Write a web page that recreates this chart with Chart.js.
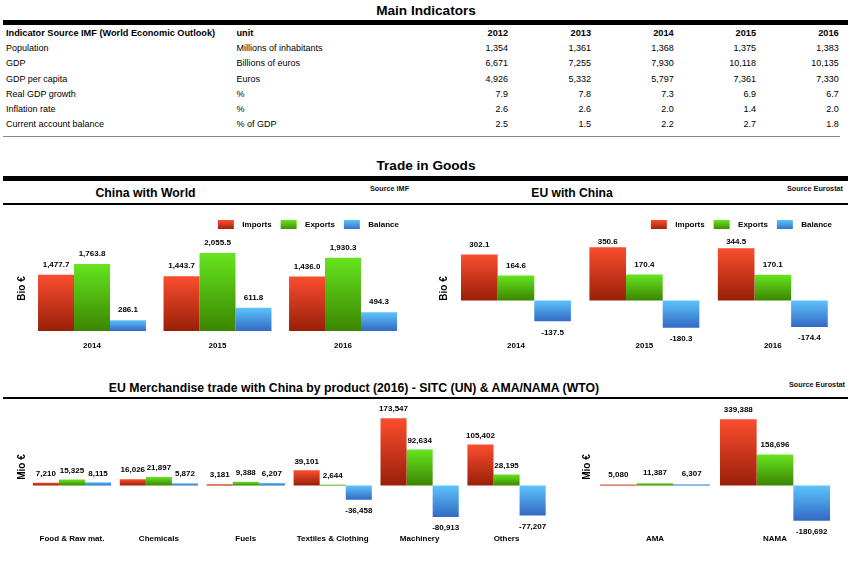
<!doctype html>
<head>
<style>
* {
    box-sizing: border-box;
    margin: 0;
    padding: 0;
}
body {
    width: 854px;
    height: 570px;
    background: white;
    font-family: "Liberation Sans", Arial, sans-serif;
    color: #000;
    position: relative;
    overflow: hidden;
}
canvas, .t, .rule {
    position: absolute;
}
.t {
    white-space: nowrap;
    line-height: 12px;
    font-size: 9px;
    transform: translateY(-6px);
}
.b { font-weight: bold; font-size: 9.2px; }
.r { text-align: right; transform: translate(-100%, -6px); }
.c { text-align: center; transform: translate(-50%, -8px); font-weight: bold; line-height: 16px; }
.src { font-size: 7.25px; font-weight: bold; color: #111; }
</style>
</head>
<body>
<canvas id="china_world"></canvas>
<canvas id="eu_china"></canvas>
<canvas id="by_sitc"></canvas>
<canvas id="by_wto"></canvas>
<script src="https://cdn.jsdelivr.net/npm/chart.js"></script>
<script>

let indicator_years = ['2012', '2013', '2014', '2015', '2016']
let indicator_names = ['Population', 'GDP', 'GDP per capita', 'Real GDP growth', 'Inflation rate', 'Current account balance']
let indicator_units = ['Millions of inhabitants', 'Billions of euros', 'Euros', '%', '%', '% of GDP']
let population = ['1,354', '1,361', '1,368', '1,375', '1,383']
let gdp = ['6,671', '7,255', '7,930', '10,118', '10,135']
let gdp_per_capita = ['4,926', '5,332', '5,797', '7,361', '7,330']
let gdp_growth = ['7.9', '7.8', '7.3', '6.9', '6.7']
let inflation = ['2.6', '2.6', '2.0', '1.4', '2.0']
let current_account = ['2.5', '1.5', '2.2', '2.7', '1.8']
let indicator_rows = [population, gdp, gdp_per_capita, gdp_growth, inflation, current_account]

let trade_years = ['2014', '2015', '2016']
let world_imports = [1477.7, 1443.7, 1436.0]
let world_exports = [1763.8, 2055.5, 1930.3]
let world_balance = [286.1, 611.8, 494.3]
let eu_imports = [302.1, 350.6, 344.5]
let eu_exports = [164.6, 170.4, 170.1]
let eu_balance = [-137.5, -180.3, -174.4]

let sitc_products = ['Food & Raw mat.', 'Chemicals', 'Fuels', 'Textiles & Clothing', 'Machinery', 'Others']
let sitc_imports = [7210, 16026, 3181, 39101, 173547, 105402]
let sitc_exports = [15325, 21897, 9388, 2644, 92634, 28195]
let sitc_balance = [8115, 5872, 6207, -36458, -80913, -77207]

let wto_products = ['AMA', 'NAMA']
let wto_imports = [5080, 339388]
let wto_exports = [11387, 158696]
let wto_balance = [6307, -180692]

let series_names = ['Imports', 'Exports', 'Balance']
let series_colors = [['#fb4d2f', '#981f08'], ['#66e51f', '#3b8500'], ['#5cc4fb', '#3369c4']]

function add_text(text, x, y, cls, style) {
    let el = document.createElement('div')
    el.className = 't ' + cls
    el.textContent = text
    el.style.left = x + 'px'
    el.style.top = y + 'px'
    if (style) el.style.cssText += style
    document.body.appendChild(el)
}

function add_rule(y, h, x2, color) {
    let el = document.createElement('div')
    el.className = 'rule'
    el.style.cssText = `left:3px;top:${y}px;height:${h}px;width:${x2 - 3}px;background:${color}`
    document.body.appendChild(el)
}

add_text('Main Indicators', 426, 10.5, 'c', 'font-size:13.6px')
add_rule(20, 5, 848, '#000')

let col_right = [508, 591, 673.7, 756, 838.7]
let row_y = [47.7, 63, 79, 94, 109, 124]
add_text('Indicator Source IMF (World Economic Outlook)', 6, 33, 'b')
add_text('unit', 236.5, 33, 'b')
indicator_years.forEach((year, i) => add_text(year, col_right[i], 33, 'b r'))
indicator_names.forEach((name, r) => {
    add_text(name, 6, row_y[r], '')
    add_text(indicator_units[r], 236.5, row_y[r], '')
    indicator_rows[r].forEach((v, i) => add_text(v, col_right[i], row_y[r], 'r'))
})
add_rule(136, 1, 840, '#888')

add_text('Trade in Goods', 426, 166, 'c', 'font-size:13.6px')
add_rule(176, 4.5, 848, '#000')
add_text('China with World', 145.5, 192.5, 'c', 'font-size:12.3px')
add_text('Source IMF', 370, 189, 'src')
add_text('EU with China', 572, 192.5, 'c', 'font-size:12.1px')
add_text('Source Eurostat', 787, 189, 'src')
add_rule(203, 1.5, 848, '#000')

add_text('EU Merchandise trade with China by product (2016) - SITC (UN) & AMA/NAMA (WTO)', 354, 387.5, 'c', 'font-size:12.25px')
add_text('Source Eurostat', 789, 384.5, 'src')
add_rule(397, 1.5, 848, '#000')

function bar_gradient(ctx, index, top, bottom) {
    let g = ctx.createLinearGradient(0, top, 0, bottom)
    g.addColorStop(0, series_colors[index][0])
    g.addColorStop(1, series_colors[index][1])
    return g
}

// bar values drawn next to each bar, the library has no built-in for this
let value_labels = {
    id: 'value_labels',
    afterDatasetsDraw(chart, args, opts) {
        let ctx = chart.ctx
        ctx.save()
        ctx.font = 'bold 8px "Liberation Sans"'
        ctx.fillStyle = '#000'
        ctx.textAlign = 'center'
        ctx.textBaseline = 'middle'
        chart.data.datasets.forEach((ds, d) => {
            chart.getDatasetMeta(d).data.forEach((bar, i) => {
                let v = ds.data[i]
                let y = v < 0 ? bar.y + 11 : Math.max(bar.y - opts.gap, chart.chartArea.top + opts.clamp)
                let text = v.toLocaleString('en-US', { minimumFractionDigits: opts.digits, maximumFractionDigits: opts.digits })
                ctx.fillText(text, bar.x, y)
            })
        })
        ctx.restore()
    },
}

function make_chart(id, cfg) {
    let canvas = document.getElementById(id)
    canvas.width = cfg.w
    canvas.height = cfg.h
    canvas.style.left = cfg.left + 'px'
    canvas.style.top = cfg.top + 'px'
    return new Chart(canvas, {
        type: 'bar',
        data: {
            labels: cfg.labels,
            datasets: cfg.series.map((data, i) => ({
                label: series_names[i],
                data,
                barPercentage: 1,
                categoryPercentage: cfg.group,
                borderWidth: 0,
                backgroundColor(c) {
                    let chart = c.chart
                    if (!chart.chartArea || c.raw === undefined) return series_colors[i][0]
                    let y0 = chart.scales.y.getPixelForValue(0)
                    let y1 = chart.scales.y.getPixelForValue(c.raw)
                    return bar_gradient(chart.ctx, i, Math.min(y0, y1), Math.max(y0, y1))
                },
            })),
        },
        options: {
            responsive: false,
            animation: false,
            layout: { padding: { top: cfg.pad_top || 0 } },
            scales: {
                x: {
                    grid: { display: false, drawTicks: false },
                    border: { display: false },
                    ticks: { color: '#000', padding: cfg.tick_pad, font: { family: 'Liberation Sans', size: 8, weight: 'bold' }, maxRotation: 0, autoSkip: false },
                    afterFit(scale) { scale.height = cfg.x_h },
                },
                y: {
                    min: cfg.min,
                    max: cfg.max,
                    grid: { display: false, drawTicks: false },
                    border: { display: false },
                    ticks: { display: false },
                    title: { display: true, text: cfg.y_title, color: '#000', font: { family: 'Liberation Sans', size: 10, weight: 'bold' }, padding: { top: cfg.title_pad, bottom: 0 } },
                    afterFit(scale) { scale.width = cfg.y_w },
                },
                gutter: {
                    position: 'right',
                    grid: { display: false, drawTicks: false },
                    border: { display: false },
                    ticks: { display: false },
                    afterFit(scale) { scale.width = cfg.gutter },
                },
            },
            plugins: {
                tooltip: { enabled: false },
                value_labels: { gap: cfg.gap, clamp: cfg.clamp || 0, digits: cfg.digits },
                legend: {
                    display: !!cfg.legend,
                    position: 'top',
                    align: 'end',
                    labels: {
                        boxWidth: 16,
                        boxHeight: 9,
                        padding: 9,
                        color: '#000',
                        font: { family: 'Liberation Sans', size: 8, weight: 'bold' },
                        generateLabels(chart) {
                            return series_names.map((name, i) => ({
                                text: '  ' + name,
                                fillStyle: bar_gradient(chart.ctx, i, 9, 19),
                                strokeStyle: 'transparent',
                                lineWidth: 0,
                                datasetIndex: i,
                            }))
                        },
                    },
                },
            },
        },
        plugins: [value_labels],
    })
}

make_chart('china_world', {
    left: 0, top: 211, w: 408, h: 144,
    labels: trade_years,
    series: [world_imports, world_exports, world_balance],
    group: 0.86, min: -184, max: 2421,
    y_title: 'Bio €', title_pad: 16, y_w: 29.25, gutter: 2.25,
    x_h: 17, tick_pad: 3, gap: 10, digits: 1, legend: true,
})
make_chart('eu_china', {
    left: 430, top: 211, w: 411, h: 144,
    labels: trade_years,
    series: [eu_imports, eu_exports, eu_balance],
    group: 0.856, min: -247, max: 405,
    y_title: 'Bio €', title_pad: 8, y_w: 21.75, gutter: 4,
    x_h: 17, tick_pad: 3, gap: 10, clamp: 3, digits: 1, legend: true,
})
make_chart('by_sitc', {
    left: 0, top: 400, w: 550, h: 146, pad_top: 8,
    labels: sitc_products,
    series: [sitc_imports, sitc_exports, sitc_balance],
    group: 0.9, min: -104381, max: 199742,
    y_title: 'Mio €', title_pad: 16, y_w: 28.5, gutter: 0,
    x_h: 20, tick_pad: 8, gap: 9, digits: 0,
})
make_chart('by_wto', {
    left: 570, top: 400, w: 265, h: 146, pad_top: 8,
    labels: wto_products,
    series: [wto_imports, wto_exports, wto_balance],
    group: 0.917, min: -207692, max: 397436,
    y_title: 'Mio €', title_pad: 11, y_w: 25, gutter: 0,
    x_h: 20, tick_pad: 8, gap: 10, digits: 0,
})

</script>
</body>
